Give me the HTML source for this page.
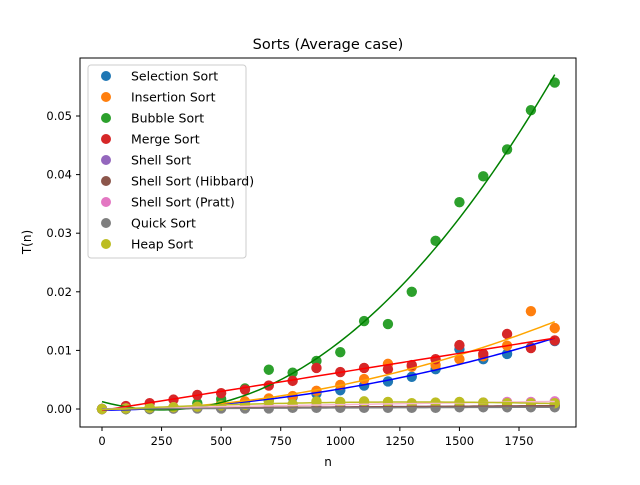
<!DOCTYPE html>
<html><head><meta charset="utf-8"><style>
body{margin:0;background:#fff;}
svg{font-family:"DejaVu Sans","Liberation Sans",sans-serif;}
</style></head><body>
<svg id="chart" width="640" height="480" xmlns="http://www.w3.org/2000/svg">
<rect width="640" height="480" fill="#fff"/>
<text x="328" y="49" font-size="14.5" text-anchor="middle">Sorts (Average case)</text>
<g id="plot"></g>
<rect x="80" y="58" width="496" height="369" fill="none" stroke="#000" stroke-width="1"/>
<g id="axes"></g>
<text x="328" y="466" font-size="12" text-anchor="middle">n</text>
<text transform="translate(31,242) rotate(-90)" font-size="12" text-anchor="middle">T(n)</text>
<g id="legend"></g>
</svg>
<script>
const ns="http://www.w3.org/2000/svg";
const nValues=[0,100,200,300,400,500,600,700,800,900,1000,1100,1200,1300,1400,1500,1600,1700,1800,1900];
const seriesNames=["Selection Sort","Insertion Sort","Bubble Sort","Merge Sort","Shell Sort","Shell Sort (Hibbard)","Shell Sort (Pratt)","Quick Sort","Heap Sort"];
const selection=[0,0,0.0001,0.0002,0.0004,0.0007,0.0011,0.0015,0.0020,0.0026,0.0032,0.0040,0.0047,0.0055,0.0068,0.0102,0.0085,0.0094,0.0105,0.0116];
const insertion=[0,0,0.0001,0.0003,0.0005,0.0010,0.0013,0.0018,0.0022,0.0031,0.0041,0.0051,0.0077,0.0072,0.0075,0.0085,0.0090,0.0108,0.0167,0.0138];
const bubble=[0,0,0,0.0002,0.0010,0.0017,0.0035,0.0067,0.0062,0.0082,0.0097,0.0150,0.0145,0.0200,0.0287,0.0353,0.0397,0.0443,0.0510,0.0557];
const merge=[0,0.0005,0.0010,0.0016,0.0024,0.0027,0.0033,0.0040,0.0048,0.0070,0.0063,0.0070,0.0068,0.0075,0.0085,0.0109,0.0094,0.0128,0.0104,0.0117];
const shell=[0,0.0001,0.0001,0.0001,0.0002,0.0002,0.0002,0.0003,0.0003,0.0003,0.0003,0.0004,0.0004,0.0004,0.0004,0.0005,0.0005,0.0005,0.0005,0.0006];
const hibbard=[0,0.0001,0.0001,0.0001,0.0002,0.0002,0.0002,0.0003,0.0003,0.0003,0.0003,0.0004,0.0004,0.0004,0.0004,0.0005,0.0005,0.0005,0.0005,0.0006];
const pratt=[0,0.0001,0.0002,0.0003,0.0003,0.0004,0.0005,0.0005,0.0006,0.0007,0.0007,0.0008,0.0009,0.0009,0.0010,0.0011,0.0011,0.0012,0.0012,0.0013];
const quick=[0,0,0,0.0001,0.0001,0.0001,0.0001,0.0001,0.0002,0.0002,0.0002,0.0002,0.0002,0.0002,0.0002,0.0003,0.0003,0.0003,0.0003,0.0003];
const heap=[0,0.0001,0.0002,0.0003,0.0004,0.0006,0.0007,0.0013,0.0008,0.0013,0.0012,0.0013,0.0012,0.0010,0.0011,0.0012,0.0011,0.0010,0.0010,0.0010];
const xTicks=[0,250,500,750,1000,1250,1500,1750];
const yTicks=[0,0.01,0.02,0.03,0.04,0.05];
const yTickLabels=["0.00","0.01","0.02","0.03","0.04","0.05"];
const allSeries=[selection,insertion,bubble,merge,shell,hibbard,pratt,quick,heap];
const dotColors=["#1f77b4","#ff7f0e","#2ca02c","#d62728","#9467bd","#8c564b","#e377c2","#7f7f7f","#bcbd22"];
const lineColors=["blue","orange","green","red","#9467bd","#8c564b","#f7b6d2","#7f7f7f","#bcbd22"];
const X=v=>102+v*(519-102)/1750;
const Y=v=>409-v*(409-116)/0.05;
function fit2(xs,ys){let S=[0,0,0,0,0],T=[0,0,0];for(let i=0;i<xs.length;i++){const x=xs[i]/1000;let p=1;for(let k=0;k<5;k++){S[k]+=p;if(k<3)T[k]+=p*ys[i];p*=x;}}
const A=[[S[0],S[1],S[2],T[0]],[S[1],S[2],S[3],T[1]],[S[2],S[3],S[4],T[2]]];
for(let i=0;i<3;i++){for(let j=i+1;j<3;j++){const f=A[j][i]/A[i][i];for(let k=i;k<4;k++)A[j][k]-=f*A[i][k];}}
const c=[0,0,0];for(let i=2;i>=0;i--){let s=A[i][3];for(let k=i+1;k<3;k++)s-=A[i][k]*c[k];c[i]=s/A[i][i];}
return x=>{x/=1000;return c[0]+c[1]*x+c[2]*x*x;};}
const plot=document.getElementById('plot');
allSeries.forEach((ys,si)=>{
  const g=document.createElementNS(ns,'g');
  
  
  ys.forEach((v,i)=>{const c=document.createElementNS(ns,'circle');
    
    
    c.setAttribute('cx',X(nValues[i]));c.setAttribute('cy',Y(v));c.setAttribute('r',5.2);c.setAttribute('fill',dotColors[si]);g.appendChild(c);});
  plot.appendChild(g);
});
allSeries.forEach((ys,si)=>{
  const f=fit2(nValues,ys);let d='';
  for(let x=0;x<=1900;x+=20){d+=(x?'L':'M')+X(x).toFixed(2)+','+Y(f(x)).toFixed(2);}
  const p=document.createElementNS(ns,'path');
  
  
  p.setAttribute('d',d);p.setAttribute('fill','none');p.setAttribute('stroke',lineColors[si]);p.setAttribute('stroke-width',1.5);plot.appendChild(p);
});
const axes=document.getElementById('axes');
xTicks.forEach(t=>{const l=document.createElementNS(ns,'line');
  
  
  l.setAttribute('x1',X(t));l.setAttribute('x2',X(t));l.setAttribute('y1',427);l.setAttribute('y2',431);l.setAttribute('stroke','#000');axes.appendChild(l);
  const tx=document.createElementNS(ns,'text');
  
  
  tx.setAttribute('x',X(t));tx.setAttribute('y',445);tx.setAttribute('font-size',11.5);tx.setAttribute('text-anchor','middle');tx.textContent=t;axes.appendChild(tx);});
yTicks.forEach((t,i)=>{const l=document.createElementNS(ns,'line');
  
  
  l.setAttribute('x1',76);l.setAttribute('x2',80);l.setAttribute('y1',Y(t));l.setAttribute('y2',Y(t));l.setAttribute('stroke','#000');axes.appendChild(l);
  const tx=document.createElementNS(ns,'text');
  
  
  tx.setAttribute('x',72);tx.setAttribute('y',Y(t)+4);tx.setAttribute('font-size',11.5);tx.setAttribute('text-anchor','end');tx.textContent=yTickLabels[i];axes.appendChild(tx);});
const lg=document.getElementById('legend');
const box=document.createElementNS(ns,'rect');


box.setAttribute('x',88);box.setAttribute('y',65);box.setAttribute('width',158);box.setAttribute('height',193);box.setAttribute('rx',3);box.setAttribute('fill','#fff');box.setAttribute('fill-opacity',0.85);box.setAttribute('stroke','#ccc');lg.appendChild(box);
seriesNames.forEach((nm,i)=>{const y=76+i*21;
  const g=document.createElementNS(ns,'g');
  
  
  const c=document.createElementNS(ns,'circle');c.setAttribute('cx',106);c.setAttribute('cy',y);c.setAttribute('r',5);c.setAttribute('fill',dotColors[i]);g.appendChild(c);
  const t=document.createElementNS(ns,'text');t.setAttribute('x',131);t.setAttribute('y',y+4.5);t.setAttribute('font-size',12.5);t.textContent=nm;g.appendChild(t);
  lg.appendChild(g);});
</script>
</body></html>
